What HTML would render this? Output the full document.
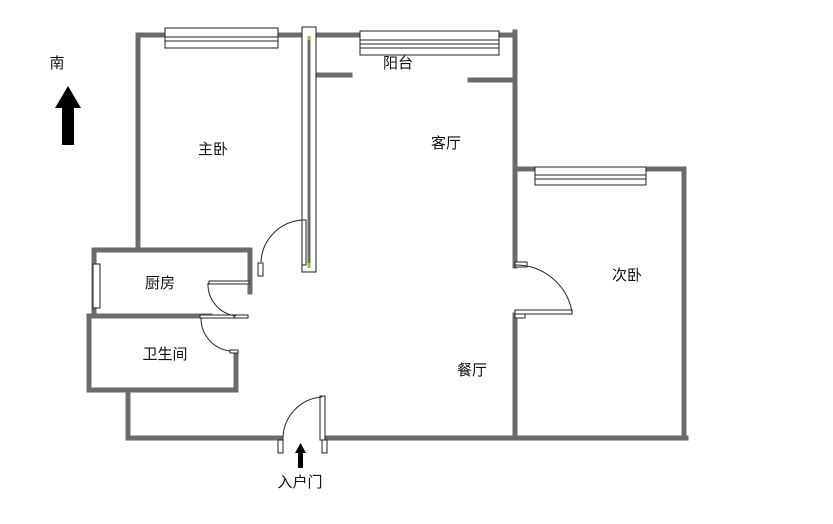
<!DOCTYPE html>
<html><head><meta charset="utf-8"><style>
html,body{margin:0;padding:0;background:#fff;}
svg text{font-family:"Liberation Sans","Noto Sans CJK SC",sans-serif;font-size:15px;fill:#111;text-anchor:middle;dominant-baseline:middle;}
</style></head><body>
<svg width="833" height="519" viewBox="0 0 833 519" xmlns="http://www.w3.org/2000/svg">
<g stroke="#6b6b6b" stroke-width="5" fill="none" stroke-linecap="square">
<path d="M138 35 H515 M138 35 V250 M515 32 V266 M515 315 V438 M515 169 H684 V438"/>
<path d="M128 438 H280 M325 438 H686 M128 390 V438"/>
<path d="M94 250 H250 V292 M94 250 V316 M89 316 H210 M89 316 V390 H236 V352"/>
<path d="M309 75 H350 M470 80 H512"/>
</g>
<g fill="#fff" stroke="#222" stroke-width="1">
<rect x="165" y="28" width="113" height="20"/>
<line x1="165" y1="37" x2="278" y2="37"/><line x1="165" y1="41" x2="278" y2="41"/>
<rect x="360" y="31" width="139" height="24"/>
<line x1="360" y1="40" x2="499" y2="40"/><line x1="360" y1="44" x2="499" y2="44"/><line x1="360" y1="48" x2="499" y2="48"/>
<rect x="535" y="167" width="111" height="18"/>
<line x1="535" y1="175" x2="646" y2="175"/><line x1="535" y1="179" x2="646" y2="179"/>
<rect x="302" y="27" width="14" height="245"/>
<rect x="93" y="264" width="7" height="44"/>
</g>
<path d="M309 36 V268" stroke="#6b6b6b" stroke-width="3"/>
<g fill="#fff" stroke="#222" stroke-width="1">
<rect x="302" y="220" width="4" height="45"/>
<rect x="258" y="263" width="5" height="13"/>
<rect x="320" y="396" width="5" height="44"/>
<rect x="278" y="440" width="5" height="13"/>
<rect x="322" y="440" width="5" height="13"/>
<rect x="515" y="310" width="57" height="4"/>
<rect x="515" y="262" width="12" height="5"/>
<rect x="515" y="314" width="10" height="4"/>
<rect x="209" y="281" width="40" height="3"/>
<rect x="200" y="315" width="35" height="3"/>
<rect x="234" y="315" width="14" height="3"/>
<rect x="230" y="350" width="8" height="3"/>
</g>
<path d="M309 263 V268" stroke="#7ad03a" stroke-width="3"/>
<path d="M309 36 V40" stroke="#7ad03a" stroke-width="3"/>
<g fill="none" stroke="#222" stroke-width="1">
<path d="M261 262 A44 44 0 0 1 303 220"/>
<path d="M283 440 A42 42 0 0 1 322 397"/>
<path d="M572 312 A57 57 0 0 0 515 265"/>
<path d="M208 283 A32 32 0 0 0 236 316"/>
<path d="M201 318 A33 33 0 0 0 230 351"/>
</g>
<path d="M62 145 H74 V108 H81 L68 86 L55 108 H62 Z" fill="#000"/>
<path d="M298 468 H303 V453 H306 L300.5 443 L295 453 H298 Z" fill="#000"/>
<text x="57" y="64">南</text>
<text x="213" y="150">主卧</text>
<text x="446" y="144">客厅</text>
<text x="398" y="64">阳台</text>
<text x="627" y="276">次卧</text>
<text x="160" y="284">厨房</text>
<text x="165" y="355">卫生间</text>
<text x="472" y="371">餐厅</text>
<text x="300" y="483">入户门</text>
</svg>
</body></html>
